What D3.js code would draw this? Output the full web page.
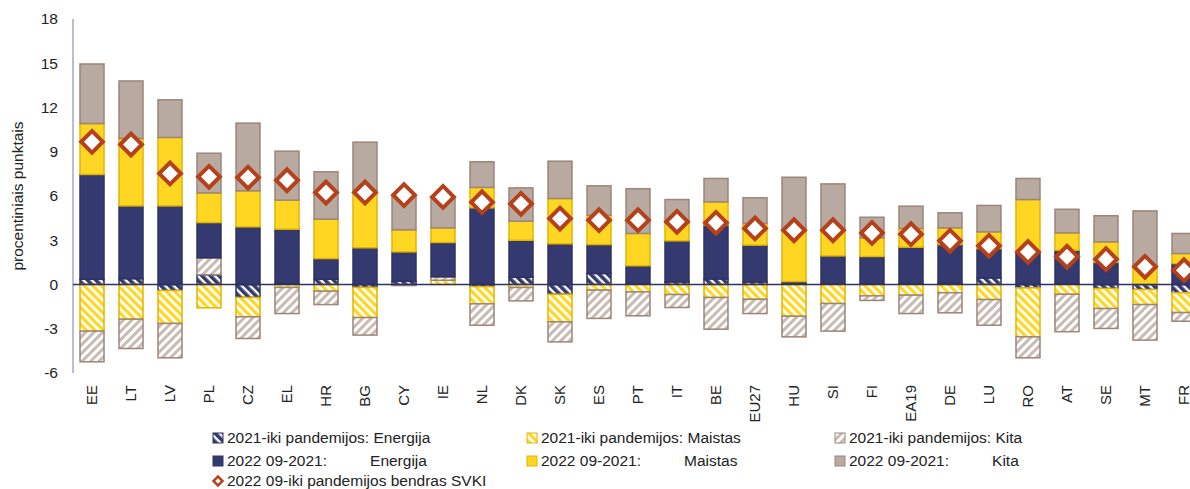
<!DOCTYPE html>
<html>
<head>
<meta charset="utf-8">
<script src="https://cdn.jsdelivr.net/npm/d3@7"></script>
<style>
  body { margin: 0; background: #fff; }
  svg { display: block; font-family: "Liberation Sans", Arial, sans-serif; }
</style>
</head>
<body>
<div id="chart"></div>
<script>
// countries in the order of the chart
const categories = ["EE", "LT", "LV", "PL", "CZ", "EL", "HR", "BG", "CY", "IE", "NL", "DK", "SK", "ES", "PT",
  "IT", "BE", "EU27", "HU", "SI", "FI", "EA19", "DE", "LU", "RO", "AT", "SE", "MT", "FR"];

// 2021 vs pre-pandemic contributions (hatched)
const energy21 = [0.36, 0.4, -0.41, 0.66, -0.88, 0.05, 0.36, -0.2, 0.23, 0, -0.14, 0.5, -0.66, 0.75, 0.05,
  0.18, 0.38, 0.18, 0.02, 0.05, 0.03, 0.05, 0.1, 0.45, -0.23, 0.05, -0.27, -0.34, -0.56];
const food21 = [-3.16, -2.35, -2.23, -1.58, -1.31, -0.2, -0.45, -2.04, 0, 0.29, -1.17, -0.2, -1.87, -0.38, -0.5,
  -0.68, -0.88, -1.0, -2.15, -1.29, -0.77, -0.72, -0.56, -1.02, -3.32, -0.66, -1.36, -1.02, -1.34];
const other21 = [-2.08, -1.99, -2.33, 1.15, -1.47, -1.77, -0.91, -1.19, -0.07, 0.23, -1.45, -0.91, -1.36, -1.92, -1.62,
  -0.88, -2.15, -0.97, -1.4, -1.87, -0.31, -1.25, -1.36, -1.74, -1.42, -2.54, -1.35, -2.41, -0.59];

// 2022 09 vs 2021 contributions (solid)
const energy22 = [7.1, 4.93, 5.33, 2.39, 3.91, 3.7, 1.4, 2.49, 1.98, 2.33, 5.2, 2.5, 2.76, 1.96, 1.22,
  2.78, 3.65, 2.49, 0.18, 1.89, 1.87, 2.48, 2.61, 1.99, 2.2, 2.27, 1.5, 0, 1.42];
const food22 = [3.45, 4.57, 4.64, 2.01, 2.44, 1.97, 2.67, 3.91, 1.5, 0.99, 1.38, 1.29, 3.07, 1.99, 2.19,
  1.22, 1.57, 1.47, 3.5, 1.74, 1.26, 1.27, 1.13, 1.13, 3.56, 1.18, 1.39, 1.3, 0.68];
const other22 = [4.04, 3.9, 2.55, 2.69, 4.59, 3.32, 3.21, 3.25, 2.3, 2.1, 1.74, 2.26, 2.53, 1.99, 3.03,
  1.58, 1.59, 1.74, 3.57, 3.14, 1.4, 1.51, 1.02, 1.79, 1.43, 1.6, 1.77, 3.69, 1.36];

// total HICP change vs pre-pandemic (diamonds)
const total = [9.67, 9.49, 7.53, 7.3, 7.25, 7.07, 6.24, 6.24, 6.06, 5.94, 5.58, 5.47, 4.47, 4.36, 4.36,
  4.25, 4.18, 3.8, 3.68, 3.68, 3.5, 3.41, 2.96, 2.62, 2.21, 1.88, 1.72, 1.2, 0.97];

const yTicks = [-6, -3, 0, 3, 6, 9, 12, 15, 18];

const seriesNames = [
  "2021-iki pandemijos: Energija",
  "2021-iki pandemijos: Maistas",
  "2021-iki pandemijos: Kita",
  "2022 09-2021:          Energija",
  "2022 09-2021:          Maistas",
  "2022 09-2021:          Kita"
];
const totalName = "2022 09-iki pandemijos bendras SVKI";

const keys = ["e21", "f21", "o21", "e22", "f22", "o22"];
const fills = ["url(#hNavy)", "url(#hYellow)", "url(#hGray)", "#343a6f", "#ffd723", "#b8a9a1"];
const strokes = ["#2c3262", "#e2b400", "#9c8579", "#2c3262", "#e2b400", "#9c8579"];

const table = categories.map((c, i) => ({
  cat: c, e21: energy21[i], f21: food21[i], o21: other21[i],
  e22: energy22[i], f22: food22[i], o22: other22[i], tot: total[i]
}));

const width = 1190, height = 489;
const svg = d3.select("#chart").append("svg")
  .attr("width", width).attr("height", height);

// hatch patterns
const defs = svg.append("defs");
function hatch(id, bg, fg, fgW, angle) {
  const p = defs.append("pattern").attr("id", id)
    .attr("patternUnits", "userSpaceOnUse")
    .attr("width", 6).attr("height", 6)
    .attr("patternTransform", `rotate(${angle})`);
  p.append("rect").attr("width", 6).attr("height", 6).attr("fill", bg);
  p.append("rect").attr("width", fgW).attr("height", 6).attr("fill", fg);
}
hatch("hNavy", "#ffffff", "#343a6f", 3.6, -45);
hatch("hYellow", "#ffffff", "#ffd723", 3.2, -45);
hatch("hGray", "#ffffff", "#c7bbb4", 3, 45);

const x = d3.scaleBand().domain(categories)
  .range([73, 1203]).paddingInner(0.385).paddingOuter(0.18);
const y = d3.scaleLinear().domain([-6, 18]).range([373, 19]);

const stacked = d3.stack().keys(keys).offset(d3.stackOffsetDiverging)(table);

// y axis
svg.append("line")
  .attr("x1", 73).attr("x2", 73).attr("y1", y(18)).attr("y2", y(-6))
  .attr("stroke", "#8e91b4").attr("stroke-width", 1.2);

svg.append("g").selectAll("text").data(yTicks).join("text")
  .attr("x", 58).attr("y", d => y(d)).attr("dy", "0.35em")
  .attr("text-anchor", "end").attr("font-size", 15.5).attr("fill", "#222")
  .text(d => d);

svg.append("text")
  .attr("transform", `translate(23,${y(6)}) rotate(-90)`)
  .attr("text-anchor", "middle").attr("font-size", 15.5).attr("fill", "#222")
  .text("procentiniais punktais");

// bars
svg.append("g").selectAll("g").data(stacked).join("g")
  .attr("fill", (d, i) => fills[i]).attr("stroke", (d, i) => strokes[i])
  .attr("stroke-width", 1.5)
  .selectAll("rect").data(d => d).join("rect")
  .attr("x", d => x(d.data.cat))
  .attr("width", x.bandwidth())
  .attr("y", d => y(Math.max(d[0], d[1])))
  .attr("height", d => Math.abs(y(d[0]) - y(d[1])));

// zero line
svg.append("line")
  .attr("x1", 73).attr("x2", width).attr("y1", y(0)).attr("y2", y(0))
  .attr("stroke", "#2c3262").attr("stroke-width", 1.3);

// total diamonds
const diamond = d3.symbol().type(d3.symbolSquare).size(235);
svg.append("g").selectAll("path").data(table).join("path")
  .attr("d", diamond)
  .attr("transform", d => `translate(${x(d.cat) + x.bandwidth() / 2},${y(d.tot)}) rotate(45)`)
  .attr("fill", "#fff").attr("stroke", "#b5401a").attr("stroke-width", 4);

// category labels
svg.append("g").selectAll("text").data(categories).join("text")
  .attr("transform", d => `translate(${x(d) + x.bandwidth() / 2 + 5},385) rotate(-90)`)
  .attr("text-anchor", "end").attr("font-size", 15).attr("fill", "#222")
  .text(d => d);

// legend
const legendItems = seriesNames.map((n, i) => ({ name: n, i: i }));
const colX = [213, 527, 835];
const rowY = [438, 461];
const lg = svg.append("g").attr("font-size", 15.5).attr("fill", "#222");
legendItems.forEach(d => {
  const lx = colX[d.i % 3], ly = rowY[Math.floor(d.i / 3)];
  lg.append("rect").attr("x", lx).attr("y", ly - 5).attr("width", 10).attr("height", 10)
    .attr("fill", fills[d.i]).attr("stroke", strokes[d.i]).attr("stroke-width", 1);
  lg.append("text").attr("x", lx + 14).attr("y", ly).attr("dy", "0.35em")
    .style("white-space", "pre").text(d.name);
});
lg.append("path")
  .attr("d", d3.symbol().type(d3.symbolSquare).size(40))
  .attr("transform", `translate(${colX[0] + 5},481) rotate(45)`)
  .attr("fill", "#fff").attr("stroke", "#b5401a").attr("stroke-width", 2.5);
lg.append("text").attr("x", colX[0] + 14).attr("y", 481).attr("dy", "0.35em")
  .text(totalName);
</script>
</body>
</html>
